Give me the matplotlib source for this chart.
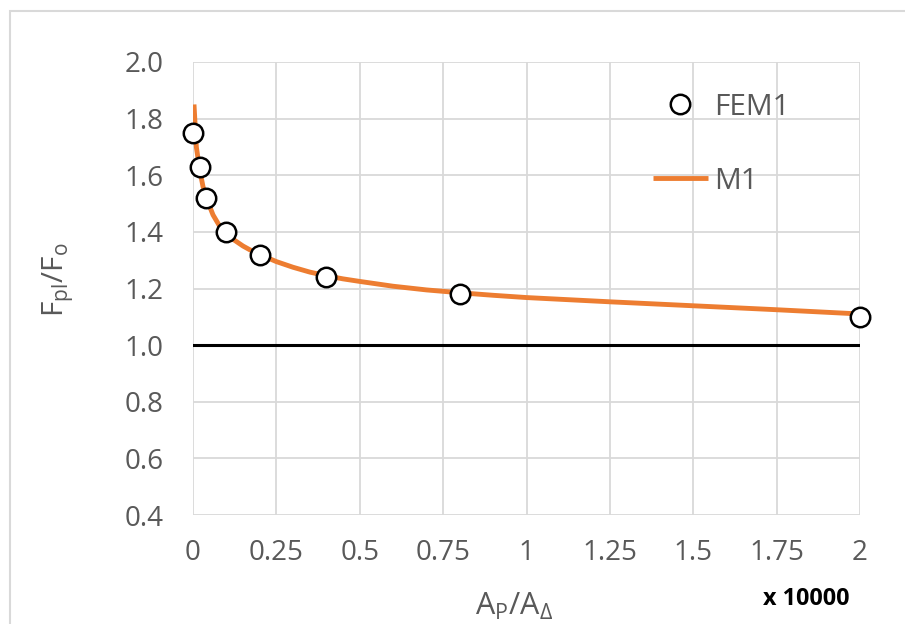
import matplotlib
matplotlib.use("Agg")
import matplotlib.pyplot as plt
from matplotlib.patches import Rectangle

# FEM1 points (x in units of 10000)
fem_x = [0.0, 0.02, 0.04, 0.1, 0.2, 0.4, 0.8, 2.0]
fem_y = [1.75, 1.63, 1.52, 1.40, 1.32, 1.24, 1.18, 1.10]

# M1 curve
m1_x = [0.003, 0.01, 0.02, 0.03, 0.04, 0.06, 0.08, 0.1, 0.12, 0.15, 0.17,
        0.2, 0.25, 0.3, 0.35, 0.4, 0.45, 0.5, 0.6, 0.7, 0.8, 0.9, 1.0,
        1.25, 1.5, 1.75, 2.0]
m1_y = [1.85, 1.70, 1.62, 1.56, 1.52, 1.46, 1.42, 1.395, 1.374, 1.35, 1.337,
        1.32, 1.295, 1.275, 1.258, 1.245, 1.234, 1.225, 1.208, 1.195, 1.185,
        1.176, 1.168, 1.153, 1.139, 1.125, 1.11]

x_ticks = [0, 0.25, 0.5, 0.75, 1, 1.25, 1.5, 1.75, 2]
x_labels = ["0", "0.25", "0.5", "0.75", "1", "1.25", "1.5", "1.75", "2"]
y_ticks = [0.4, 0.6, 0.8, 1.0, 1.2, 1.4, 1.6, 1.8, 2.0]

W, H = 905, 624
GRID = "#d9d9d9"
TXT = "#595959"
plt.rcParams["font.family"] = ["Open Sans", "DejaVu Sans"]

fig = plt.figure(figsize=(W / 100, H / 100), dpi=100, facecolor="white")
ax = fig.add_axes([193 / W, 1 - 515 / H, (860 - 193) / W, (515 - 62) / H])

# chart border
fig.patches.append(Rectangle((10 / W, -0.1), 1.2, 1 - 11 / H + 0.1,
                             transform=fig.transFigure, fill=False,
                             edgecolor=GRID, lw=1.5))

ax.set_xlim(0, 2)
ax.set_ylim(0.4, 2.0)
ax.set_xticks(x_ticks)
ax.set_xticklabels(x_labels)
ax.set_yticks(y_ticks)
ax.set_yticklabels([f"{v:.1f}" for v in y_ticks])
ax.grid(True, color=GRID, lw=1.3)
ax.set_axisbelow(True)
for s in ax.spines.values():
    s.set_visible(False)
ax.tick_params(length=0, labelsize=20, labelcolor=TXT)
ax.tick_params(axis="x", pad=17)
ax.tick_params(axis="y", pad=21)

ax.axhline(1.0, color="black", lw=2.2, zorder=2)
ax.plot(m1_x, m1_y, color="#ed7d31", lw=3.5, label="M1", zorder=3,
        solid_capstyle="butt")
ax.plot(fem_x, fem_y, ls="none", marker="o", ms=14, mfc="white",
        mec="black", mew=1.8, label="FEM1", zorder=4, clip_on=False)

h, l = ax.get_legend_handles_labels()
leg = ax.legend([h[1], h[0]], [l[1], l[0]], loc="upper left",
                bbox_to_anchor=((626 - 193) / (860 - 193), 1 - (66 - 62) / (515 - 62)),
                frameon=False, fontsize=21.5, labelspacing=1.5,
                handlelength=1.85, handletextpad=0.2, markerscale=1.0)
for t in leg.get_texts():
    t.set_color(TXT)

fig.text(58 / W, 1 - 280 / H, r"F$_{\mathregular{pl}}$/F$_{\mathregular{o}}$",
         rotation=90, ha="center", va="center", fontsize=21.5, color=TXT)
fig.text(514 / W, 1 - 606 / H, r"A$_{\mathregular{P}}$/A$_{\mathregular{\Delta}}$",
         ha="center", va="center", fontsize=22, color=TXT)
fig.text(806 / W, 1 - 599 / H, "x 10000", ha="center", va="center",
         fontsize=16.8, fontweight="bold", color="black")

fig.savefig("out.png", dpi=100, facecolor="white")
